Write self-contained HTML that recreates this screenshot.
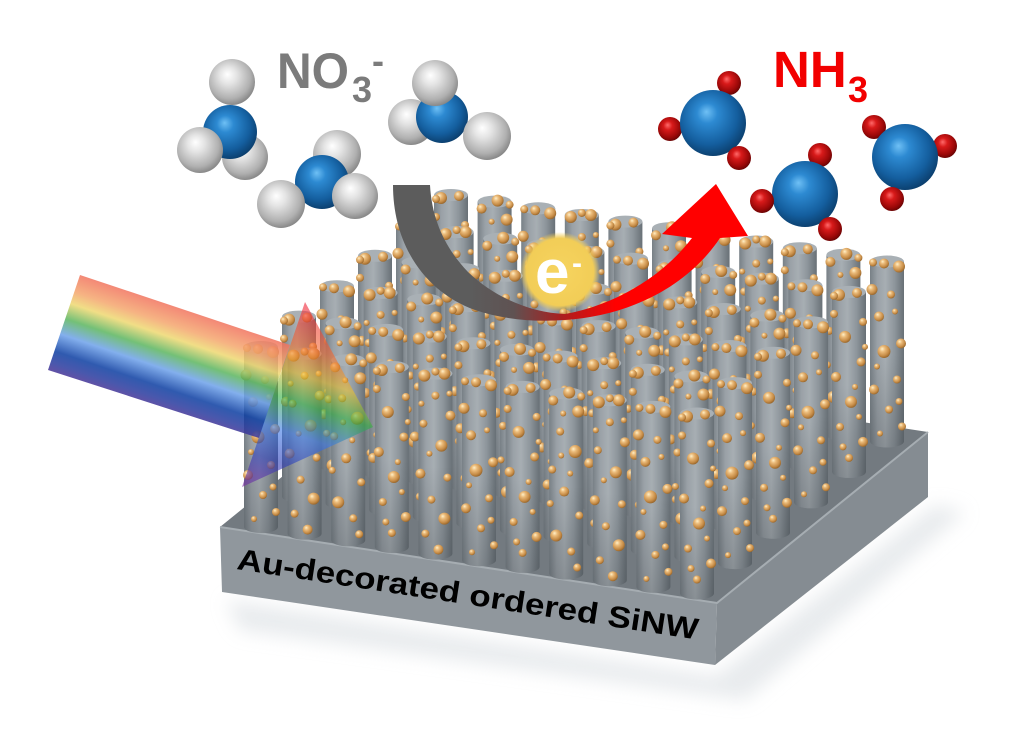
<!DOCTYPE html>
<html><head><meta charset="utf-8"><style>
html,body{margin:0;padding:0;background:#fff;width:1024px;height:739px;overflow:hidden}
svg{display:block}
text{font-family:"Liberation Sans",Arial,sans-serif;font-weight:bold}
</style></head><body>
<svg width="1024" height="739" viewBox="0 0 1024 739" xmlns="http://www.w3.org/2000/svg" xmlns:xlink="http://www.w3.org/1999/xlink">
<defs>
<linearGradient id="pb" x1="0" y1="0" x2="1" y2="0">
<stop offset="0" stop-color="#788086"/><stop offset="0.22" stop-color="#9aa1a7"/><stop offset="0.45" stop-color="#a7aeb3"/><stop offset="0.72" stop-color="#8e969c"/><stop offset="1" stop-color="#687076"/>
</linearGradient>
<linearGradient id="pv" x1="0" y1="0" x2="0" y2="1">
<stop offset="0.5" stop-color="#1e2328" stop-opacity="0"/><stop offset="1" stop-color="#1e2328" stop-opacity="0.22"/>
</linearGradient>
<radialGradient id="au" cx="0.4" cy="0.36" r="0.7" fx="0.36" fy="0.3">
<stop offset="0" stop-color="#fff0c8"/><stop offset="0.3" stop-color="#ebbb7a"/><stop offset="0.7" stop-color="#c68c47"/><stop offset="1" stop-color="#8c5c24"/>
</radialGradient>
<radialGradient id="wb" cx="0.45" cy="0.42" r="0.62" fx="0.4" fy="0.33">
<stop offset="0" stop-color="#ffffff"/><stop offset="0.3" stop-color="#e4e4e4"/><stop offset="0.75" stop-color="#b0b0b0"/><stop offset="1" stop-color="#7e7e7e"/>
</radialGradient>
<radialGradient id="bb" cx="0.45" cy="0.42" r="0.62" fx="0.4" fy="0.33">
<stop offset="0" stop-color="#6fc0f5"/><stop offset="0.25" stop-color="#2d8ad2"/><stop offset="0.7" stop-color="#145e9e"/><stop offset="1" stop-color="#0a3a66"/>
</radialGradient>
<radialGradient id="rb" cx="0.45" cy="0.42" r="0.62" fx="0.4" fy="0.33">
<stop offset="0" stop-color="#ff6a6a"/><stop offset="0.3" stop-color="#d81a1a"/><stop offset="0.75" stop-color="#9a0808"/><stop offset="1" stop-color="#5e0303"/>
</radialGradient>
<radialGradient id="eg" cx="0.5" cy="0.5" r="0.5">
<stop offset="0" stop-color="#f6d45f"/><stop offset="0.84" stop-color="#f2cd57"/><stop offset="1" stop-color="#f2cd57" stop-opacity="0"/>
</radialGradient>
<linearGradient id="beam" gradientUnits="userSpaceOnUse" x1="80" y1="275" x2="48" y2="370">
<stop offset="0" stop-color="#f1745e"/><stop offset="0.18" stop-color="#f4a66d"/><stop offset="0.3" stop-color="#eed871"/><stop offset="0.46" stop-color="#5bb55f"/><stop offset="0.62" stop-color="#6da1ea"/><stop offset="0.8" stop-color="#0b3da1"/><stop offset="0.92" stop-color="#2a3a9e"/><stop offset="1" stop-color="#463396"/>
</linearGradient>
<linearGradient id="head" gradientUnits="userSpaceOnUse" x1="305" y1="302" x2="243" y2="487">
<stop offset="0" stop-color="#f0203a"/><stop offset="0.22" stop-color="#f06a30"/><stop offset="0.36" stop-color="#e8c030"/><stop offset="0.5" stop-color="#30b040"/><stop offset="0.66" stop-color="#3a78e8"/><stop offset="0.82" stop-color="#2a3cb8"/><stop offset="1" stop-color="#7a2aa0"/>
</linearGradient>
<linearGradient id="arr" gradientUnits="userSpaceOnUse" x1="470" y1="0" x2="615" y2="0">
<stop offset="0" stop-color="#5c5c5c"/><stop offset="0.3" stop-color="#5f5252"/><stop offset="0.62" stop-color="#a82020"/><stop offset="1" stop-color="#ff0000"/>
</linearGradient>
<filter id="bl" x="-20%" y="-20%" width="140%" height="140%"><feGaussianBlur stdDeviation="9"/></filter>

<g id="body">
<path d="M-17,0 L-17,180 A17,6 0 0 0 17,180 L17,0 Z" fill="url(#pb)"/>
<path d="M-17,0 L-17,180 A17,6 0 0 0 17,180 L17,0 Z" fill="url(#pv)"/>
<ellipse cx="0" cy="0" rx="17" ry="6" fill="#a9b0b5"/>
</g>
<g id="dA" fill="url(#au)">
<circle cx="-10" cy="3" r="6"/><circle cx="8" cy="1" r="5"/><circle cx="14" cy="30" r="4"/><circle cx="-4" cy="45" r="6"/><circle cx="12" cy="70" r="4.5"/><circle cx="-13" cy="85" r="5"/><circle cx="2" cy="110" r="6"/><circle cx="-9" cy="135" r="4"/><circle cx="14" cy="150" r="5"/><circle cx="0" cy="166" r="4"/><circle cx="-15" cy="22" r="4"/><circle cx="6" cy="95" r="3"/><circle cx="-15" cy="4" r="4"/><circle cx="16" cy="55" r="3"/><circle cx="-6" cy="155" r="3.5"/><circle cx="10" cy="125" r="3"/>
</g>
<g id="dB" fill="url(#au)">
<circle cx="3" cy="-1" r="6"/><circle cx="-13" cy="7" r="5"/><circle cx="12" cy="18" r="6"/><circle cx="-6" cy="38" r="4"/><circle cx="9" cy="58" r="6.5"/><circle cx="-14" cy="76" r="4"/><circle cx="-2" cy="98" r="5"/><circle cx="13" cy="122" r="4"/><circle cx="-10" cy="142" r="6"/><circle cx="5" cy="158" r="4"/><circle cx="-5" cy="62" r="3"/><circle cx="11" cy="174" r="4"/><circle cx="15" cy="3" r="4"/><circle cx="-16" cy="110" r="3.5"/><circle cx="4" cy="80" r="3"/><circle cx="-3" cy="20" r="3"/>
</g>
<g id="dC" fill="url(#au)">
<circle cx="-3" cy="2" r="5"/><circle cx="12" cy="5" r="6"/><circle cx="-15" cy="28" r="5.5"/><circle cx="4" cy="33" r="4"/><circle cx="-8" cy="55" r="5"/><circle cx="14" cy="82" r="5"/><circle cx="-3" cy="90" r="6.5"/><circle cx="10" cy="118" r="4"/><circle cx="-13" cy="128" r="5"/><circle cx="2" cy="148" r="4"/><circle cx="15" cy="165" r="4"/><circle cx="-7" cy="172" r="3"/><circle cx="-14" cy="1" r="4"/><circle cx="8" cy="50" r="3"/><circle cx="-10" cy="105" r="3"/><circle cx="12" cy="140" r="3.5"/>
</g>
<g id="dD" fill="url(#au)">
<circle cx="9" cy="0" r="6"/><circle cx="-11" cy="2" r="6"/><circle cx="0" cy="22" r="4"/><circle cx="15" cy="42" r="5"/><circle cx="-12" cy="50" r="4"/><circle cx="6" cy="72" r="6"/><circle cx="-15" cy="100" r="5"/><circle cx="12" cy="104" r="4"/><circle cx="-4" cy="126" r="4"/><circle cx="9" cy="145" r="6"/><circle cx="-10" cy="160" r="4"/><circle cx="3" cy="176" r="5"/><circle cx="0" cy="-2" r="4"/><circle cx="-6" cy="80" r="3"/><circle cx="14" cy="20" r="3"/><circle cx="-14" cy="30" r="3"/>
</g>
<g id="pA"><use href="#body" xlink:href="#body"/><use href="#dA" xlink:href="#dA"/></g>
<g id="pB"><use href="#body" xlink:href="#body"/><use href="#dB" xlink:href="#dB"/></g>
<g id="pC"><use href="#body" xlink:href="#body"/><use href="#dC" xlink:href="#dC"/></g>
<g id="pD"><use href="#body" xlink:href="#body"/><use href="#dD" xlink:href="#dD"/></g>

<g id="rowX">
<use href="#pA" xlink:href="#pA" x="0" y="0"/><use href="#pB" xlink:href="#pB" x="43.6" y="6.65"/><use href="#pC" xlink:href="#pC" x="87.2" y="13.3"/><use href="#pD" xlink:href="#pD" x="130.8" y="19.95"/><use href="#pA" xlink:href="#pA" x="174.4" y="26.6"/><use href="#pB" xlink:href="#pB" x="218" y="33.25"/><use href="#pC" xlink:href="#pC" x="261.6" y="39.9"/><use href="#pD" xlink:href="#pD" x="305.2" y="46.55"/><use href="#pA" xlink:href="#pA" x="348.8" y="53.2"/><use href="#pB" xlink:href="#pB" x="392.4" y="59.85"/><use href="#pC" xlink:href="#pC" x="436" y="66.5"/>
</g>
<g id="rowY">
<use href="#pC" xlink:href="#pC" x="0" y="0"/><use href="#pD" xlink:href="#pD" x="43.6" y="6.65"/><use href="#pB" xlink:href="#pB" x="87.2" y="13.3"/><use href="#pA" xlink:href="#pA" x="130.8" y="19.95"/><use href="#pD" xlink:href="#pD" x="174.4" y="26.6"/><use href="#pC" xlink:href="#pC" x="218" y="33.25"/><use href="#pA" xlink:href="#pA" x="261.6" y="39.9"/><use href="#pB" xlink:href="#pB" x="305.2" y="46.55"/><use href="#pD" xlink:href="#pD" x="348.8" y="53.2"/><use href="#pC" xlink:href="#pC" x="392.4" y="59.85"/><use href="#pA" xlink:href="#pA" x="436" y="66.5"/>
</g>
</defs>

<rect width="1024" height="739" fill="#ffffff"/>

<polygon points="226,600 716,676 935,505 965,512 745,700 240,630" fill="#d9dee2" opacity="0.6" filter="url(#bl)"/>

<polygon points="220,527 717,603 928,432 431,356" fill="#737a80"/>
<polygon points="220,527 717,603 715,665 222,592" fill="#90979d"/>
<polygon points="717,603 928,432 928,497 715,665" fill="#858c92"/>
<polyline points="220,527 717,603 928,432" fill="none" stroke="#a6adb2" stroke-width="2"/>

<use href="#rowX" xlink:href="#rowX" x="451" y="195"/>
<use href="#rowY" xlink:href="#rowY" x="413" y="225.4"/>
<use href="#rowX" xlink:href="#rowX" x="375" y="255.8"/>
<use href="#rowY" xlink:href="#rowY" x="337" y="286.2"/>
<use href="#rowX" xlink:href="#rowX" x="299" y="316.6"/>
<use href="#rowY" xlink:href="#rowY" x="261" y="347"/>

<text transform="translate(236,569) rotate(8.7)" font-size="30" fill="#000" textLength="466" lengthAdjust="spacingAndGlyphs">Au-decorated ordered SiNW</text>

<polygon points="80,275 290,345 259,438 48,370" fill="url(#beam)" opacity="0.85"/>
<polygon points="305,302 373,427 242,487" fill="url(#head)" opacity="0.6"/>

<path d="M393,185 C393,245 425,292 475,310 C505,320 535,322 565,320 C625,316 685,290 720,238 L748,236 L716,184 L662,234 L692,238 C660,280 610,306 565,314 C532,313 495,298 468,272 C447,250 432,222 430,185 Z" fill="url(#arr)"/>

<circle cx="560" cy="272" r="40" fill="url(#eg)"/>
<text x="535" y="293" font-size="62" fill="#ffffff">e</text>
<text x="572" y="273" font-size="30" fill="#ffffff">-</text>

<g>
<circle cx="232" cy="82" r="23" fill="url(#wb)"/>
<circle cx="245" cy="157" r="23" fill="url(#wb)"/>
<circle cx="230" cy="132" r="27" fill="url(#bb)"/>
<circle cx="200" cy="150" r="23" fill="url(#wb)"/>
</g>
<g>
<circle cx="337" cy="154" r="24" fill="url(#wb)"/>
<circle cx="322" cy="182" r="27" fill="url(#bb)"/>
<circle cx="281" cy="204" r="24" fill="url(#wb)"/>
<circle cx="355" cy="196" r="23" fill="url(#wb)"/>
</g>
<g>
<circle cx="411" cy="122" r="23" fill="url(#wb)"/>
<circle cx="442" cy="117" r="26" fill="url(#bb)"/>
<circle cx="435" cy="83" r="23" fill="url(#wb)"/>
<circle cx="487" cy="136" r="24" fill="url(#wb)"/>
</g>

<text x="277" y="88" font-size="50" fill="#7b7b7b" textLength="72" lengthAdjust="spacingAndGlyphs">NO</text>
<text x="352" y="102" font-size="36" fill="#7b7b7b">3</text>
<text x="372" y="73" font-size="36" fill="#7b7b7b">-</text>

<g>
<circle cx="729" cy="83" r="12" fill="url(#rb)"/>
<circle cx="670" cy="129" r="12" fill="url(#rb)"/>
<circle cx="713" cy="123" r="33" fill="url(#bb)"/>
<circle cx="739" cy="158" r="12" fill="url(#rb)"/>
</g>
<g>
<circle cx="820" cy="155" r="12" fill="url(#rb)"/>
<circle cx="805" cy="194" r="33" fill="url(#bb)"/>
<circle cx="762" cy="201" r="12" fill="url(#rb)"/>
<circle cx="830" cy="229" r="12" fill="url(#rb)"/>
</g>
<g>
<circle cx="874" cy="127" r="12" fill="url(#rb)"/>
<circle cx="945" cy="146" r="12" fill="url(#rb)"/>
<circle cx="905" cy="157" r="33" fill="url(#bb)"/>
<circle cx="892" cy="199" r="12" fill="url(#rb)"/>
</g>

<text x="773" y="87" font-size="51" fill="#f20000">NH</text>
<text x="848" y="102" font-size="36" fill="#f20000">3</text>
</svg>
</body></html>
